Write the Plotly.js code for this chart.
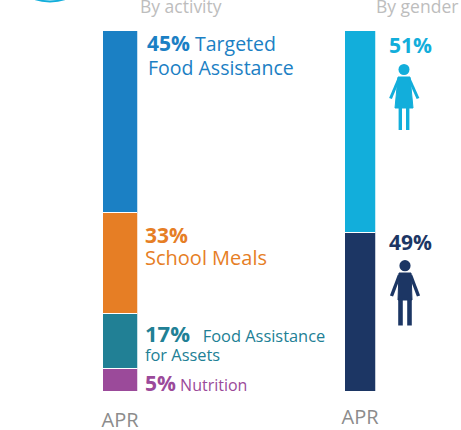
<!DOCTYPE html>
<html><head><meta charset="utf-8">
<script src="https://cdn.plot.ly/plotly-3.0.1.min.js"></script>
<style>html,body{margin:0;padding:0;background:#fff;overflow:hidden}</style>
</head><body><div id="chart" style="width:461px;height:430px"></div>
<script>
var W = 461, H = 430;
var periods = ['APR'];
var panelTitles = ['By activity', 'By gender'];
var activityNames = ['Nutrition', 'Food Assistance for Assets', 'School Meals', 'Targeted Food Assistance'];
var activityBarLengths = [6.45, 15.0, 28.1, 50.45];   // drawn length
var activityColors = ['#9b4a9a', '#218095', '#e67e25', '#1b80c4'];
var genderNames = ['Male', 'Female'];
var genderBarLengths = [44.1, 55.9];
var genderColors = ['#1c3664', '#12aedb'];

var px = function (x) { return x / W; };
var py = function (y) { return 1 - y / H; };
function path(pts, close) {
  return pts.map(function (p, i) { return (i ? 'L' : 'M') + px(p[0]) + ',' + py(p[1]); }).join(' ') + (close ? ' Z' : '');
}

var traces = [];
activityNames.forEach(function (n, i) {
  traces.push({type: 'bar', name: n, x: periods, y: [activityBarLengths[i]], xaxis: 'x', yaxis: 'y',
    width: 1, marker: {color: activityColors[i], line: {color: '#ffffff', width: 1}}, hoverinfo: 'name'});
});
genderNames.forEach(function (n, i) {
  traces.push({type: 'bar', name: n, x: periods, y: [genderBarLengths[i]], xaxis: 'x2', yaxis: 'y2',
    width: 1, marker: {color: genderColors[i], line: {color: '#ffffff', width: 1}}, hoverinfo: 'name'});
});

function note(x, y, text, size, color) {
  return {xref: 'paper', yref: 'paper', x: px(x), y: py(y), text: text, showarrow: false, xanchor: 'left', yanchor: 'middle',
    align: 'left', borderpad: 0, font: {family: 'Open Sans', size: size, color: color}};
}
var annotations = [
  note(139, 6, panelTitles[0], 17.5, '#bdbdbd'),
  note(375, 6, panelTitles[1], 17.5, '#bdbdbd'),
  note(146, 43, '<b style="font-size:21px">45%</b> Targeted', 19.5, activityColors[3]),
  note(147, 67, 'Food Assistance', 19.5, activityColors[3]),
  note(144, 235, '<b style="font-size:21px">33%</b>', 20, activityColors[2]),
  note(144, 257, 'School Meals', 20, activityColors[2]),
  note(144, 333, '<b style="font-size:22px">17%</b>&nbsp;&nbsp;&nbsp;Food Assistance', 16.4, activityColors[1]),
  note(144, 354, 'for Assets', 16.4, activityColors[1]),
  note(144, 383, '<b style="font-size:21px">5%</b> Nutrition', 16, activityColors[0]),
  note(388, 45, '<b>51%</b>', 21, genderColors[1]),
  note(388, 242, '<b>49%</b>', 21, genderColors[0])
];

function circle(cx, cy, r, c) {
  return {type: 'circle', xref: 'paper', yref: 'paper', x0: px(cx - r), x1: px(cx + r), y0: py(cy + r), y1: py(cy - r),
    fillcolor: c, line: {width: 0}};
}
function poly(pts, c) {
  return {type: 'path', xref: 'paper', yref: 'paper', path: path(pts, true), fillcolor: c, line: {color: c, width: 1}};
}
function limb(pts, c, w) {
  return {type: 'path', xref: 'paper', yref: 'paper', path: path(pts, false), line: {color: c, width: w}};
}
var F = genderColors[1], M = genderColors[0];
var shapes = [
  {type: 'circle', xref: 'paper', yref: 'paper', x0: px(4), x1: px(96), y0: py(1.5), y1: py(-90.5), fillcolor: 'rgba(0,0,0,0)', line: {color: '#12aedb', width: 2}},
  circle(404, 69.5, 5.5, F),
  poly([[398, 77], [410, 77], [413, 108], [395, 108]], F),
  limb([[399, 78.5], [390.5, 98.5]], F, 3),
  limb([[409, 78.5], [418, 98.5]], F, 3),
  limb([[400.3, 106], [400.3, 130]], F, 3.4),
  limb([[407.7, 106], [407.7, 130]], F, 3.4),
  circle(405, 265.7, 5.6, M),
  poly([[399, 273], [411, 273], [412, 300], [398, 300]], M),
  limb([[399.5, 275], [391.5, 296]], M, 3.4),
  limb([[410.5, 275], [418.5, 296]], M, 3.4),
  limb([[400.5, 298], [400.5, 325.5]], M, 4.6),
  limb([[409.5, 298], [409.5, 325.5]], M, 4.6)
];

var yBase = {range: [0, 100], showgrid: false, zeroline: false, showticklabels: false, ticks: '', showline: false, domain: [py(391.3), py(30.5)], fixedrange: true};
var xBase = {type: 'category', range: [-0.5, 0.5], showgrid: false, zeroline: false, showline: false, ticks: '', fixedrange: true,
  tickfont: {family: 'Open Sans', size: 20, color: '#8c8c8c'}};

var layout = {
  width: W, height: H, margin: {l: 0, r: 0, t: 0, b: 0, pad: 0}, paper_bgcolor: '#fff', plot_bgcolor: '#fff',
  barmode: 'stack', showlegend: false,
  xaxis: Object.assign({}, xBase, {domain: [px(102.5), px(137.5)], anchor: 'y', ticklabelstandoff: 15}),
  yaxis: Object.assign({}, yBase, {anchor: 'x'}),
  xaxis2: Object.assign({}, xBase, {domain: [px(344.5), px(375.5)], anchor: 'y2', ticklabelstandoff: 12}),
  yaxis2: Object.assign({}, yBase, {anchor: 'x2'}),
  annotations: annotations, shapes: shapes
};
Plotly.newPlot('chart', traces, layout, {displayModeBar: false, staticPlot: true});
</script></body></html>
